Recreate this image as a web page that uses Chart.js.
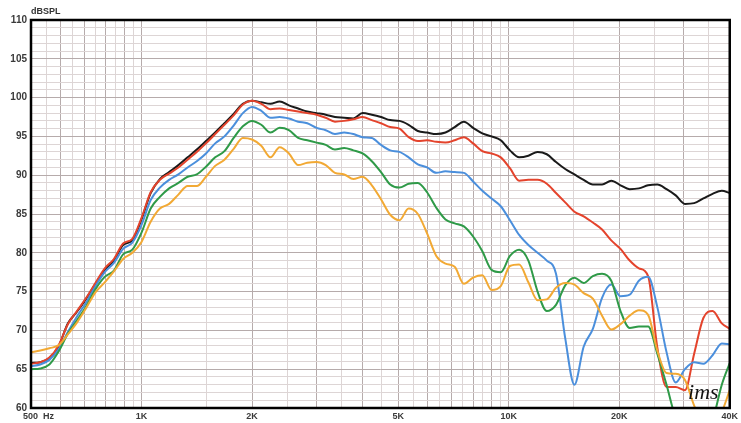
<!DOCTYPE html>
<html>
<head>
<meta charset="utf-8">
<script src="https://cdn.jsdelivr.net/npm/chart.js@4/dist/chart.umd.min.js"></script>
<style>
html,body{margin:0;padding:0;background:#fff}
canvas{display:block}
</style>
</head>
<body>
<canvas id="fr" width="741" height="423"></canvas>
<script>
// frequency points (Hz), roughly 1/12 octave
const freqs=[500,530,561,595,630,667,707,749,794,841,
  891,944,1000,1059,1122,1189,1260,1335,1414,1498,
  1587,1682,1782,1888,2000,2119,2245,2378,2520,2670,
  2828,2997,3175,3364,3564,3775,4000,4238,4490,4757,
  5040,5339,5657,5993,6350,6727,7127,7551,8000,8476,
  8980,9514,10079,10679,11314,11986,12699,13454,14254,15102,
  16000,16951,17959,19027,20159,21357,22627,23973,25398,26909,
  28509,30204,32000,33903,35919,38055,40000];

// dBSPL per curve
const splBlack=[65.8,65.9,66.4,68.0,70.9,72.4,74.1,76.0,77.8,79.0,
  81.0,81.6,84.3,87.7,89.5,90.4,91.3,92.3,93.3,94.4,
  95.5,96.7,97.9,99.2,99.6,99.4,99.2,99.5,99.0,98.6,
  98.2,98.0,97.8,97.5,97.4,97.3,98.0,97.8,97.5,97.1,
  97.0,96.5,95.7,95.5,95.3,95.5,96.2,96.9,96.1,95.4,
  95.0,94.5,93.2,92.3,92.5,93.0,92.7,91.7,90.8,90.1,
  89.4,88.8,88.8,89.3,88.7,88.2,88.3,88.7,88.8,88.2,
  87.4,86.3,86.4,87.0,87.6,88.0,87.7];
const splRed=[65.7,65.9,66.5,68.1,70.8,72.5,74.2,76.1,78.0,79.2,
  81.2,81.8,84.5,87.8,89.4,90.2,91.0,92.0,93.0,94.1,
  95.3,96.5,97.7,99.1,99.6,99.2,98.5,98.6,98.4,98.2,
  98.0,97.8,97.4,96.9,97.0,97.2,97.5,97.1,96.7,96.2,
  96.0,94.9,94.4,94.5,94.3,94.2,94.5,94.9,94.1,93.1,
  92.8,92.3,90.9,89.3,89.4,89.4,88.9,87.7,86.5,85.3,
  84.7,83.9,83.0,81.6,80.5,79.0,78.0,77.0,67.8,62.7,
  62.7,62.3,67.0,71.6,72.5,70.9,70.2];
const splBlue=[65.4,65.6,66.2,67.6,69.8,71.8,73.6,75.7,77.5,78.7,
  80.5,81.3,83.6,86.8,88.4,89.4,90.1,91.0,91.8,92.8,
  94.1,95.0,96.4,98.0,98.8,98.3,97.4,97.5,97.3,96.9,
  96.7,96.1,95.8,95.3,95.5,95.3,94.9,94.8,93.9,93.2,
  93.0,92.3,91.4,91.0,90.3,90.5,90.4,90.3,89.2,88.0,
  87.0,86.0,84.2,82.3,81.0,80.0,79.0,77.3,69.0,63.0,
  67.9,70.2,74.2,75.9,74.4,74.6,76.4,76.9,73.0,67.2,
  63.3,65.0,65.9,65.7,66.8,68.3,68.2];
const splGreen=[65.0,65.1,65.6,67.3,69.6,71.3,73.1,75.3,76.9,77.7,
  79.8,80.4,82.6,85.7,87.2,88.3,89.0,89.8,90.1,91.1,
  92.3,93.1,94.8,96.3,97.0,96.5,95.5,96.1,95.8,94.8,
  94.5,94.2,93.9,93.3,93.5,93.2,92.8,91.8,90.4,88.8,
  88.4,88.9,89.0,87.8,85.8,84.3,83.8,83.4,82.1,80.2,
  77.8,77.5,79.6,80.4,79.0,75.0,72.5,73.3,75.8,76.8,
  76.1,77.0,77.3,76.4,72.5,70.3,70.5,70.5,67.0,63.0,
  58.7,57.0,56.8,57.2,58.5,63.0,65.8];
const splOrange=[67.2,67.4,67.7,68.1,69.5,71.0,72.9,74.9,76.2,77.6,
  79.2,80.0,81.4,84.0,85.7,86.3,87.5,88.6,88.6,89.8,
  91.2,92.0,93.4,94.8,94.6,93.8,92.3,93.6,92.8,91.3,
  91.6,91.7,91.3,90.3,90.1,89.5,89.8,88.7,86.9,84.9,
  84.2,85.7,85.0,82.5,79.6,78.6,78.2,76.0,76.8,77.1,
  75.2,75.7,78.3,78.5,76.2,73.9,74.0,75.5,76.1,75.9,
  74.8,74.1,71.9,70.1,70.8,71.9,72.6,72.0,67.4,64.5,
  64.4,63.6,60.3,57.8,57.8,59.5,62.3];

// grid / tick positions
const xMajor=[500,600,700,800,900,1000,2000,3000,4000,5000,6000,7000,8000,9000,10000,20000,30000,40000];
const xMinor=[550,650,750,850,950,1500,2500,3500,4500,5500,6500,7500,8500,9500,15000,25000,35000];
const xLabelVals=[500,1000,2000,5000,10000,20000,40000];
const xLabelText=['      500  Hz','1K','2K','5K','10K','20K','40K'];
const yMin=60,yMax=110;
const yUnit='dBSPL';
const signature='ims';

const series=[
  {data:splOrange,color:'#f2a934'},
  {data:splGreen,color:'#2f9a48'},
  {data:splBlue,color:'#4b8fdc'},
  {data:splRed,color:'#e4432c'},
  {data:splBlack,color:'#1a1a1a'}
];

const frame={id:'frame',afterDatasetsDraw(chart){
  const {ctx,chartArea:a,scales}=chart;
  ctx.save();
  ctx.strokeStyle='#000';ctx.lineWidth=2.5;
  ctx.strokeRect(a.left,a.top,a.right-a.left,a.bottom-a.top);
  ctx.fillStyle='#333';ctx.font='bold 9px "Liberation Sans", Arial';
  ctx.textAlign='left';ctx.textBaseline='middle';
  ctx.fillText(yUnit,a.left,a.top-8.5);
  ctx.fillStyle='#111';ctx.font='italic 22px "Liberation Serif", serif';
  ctx.textBaseline='alphabetic';
  ctx.fillText(signature,scales.x.getPixelForValue(30800),scales.y.getPixelForValue(61.2));
  ctx.restore();
}};

new Chart(document.getElementById('fr'),{
  type:'line',
  data:{datasets:series.map(s=>({
    data:freqs.map((f,i)=>({x:f,y:s.data[i]})),
    borderColor:s.color,borderWidth:2,pointRadius:0,fill:false,
    cubicInterpolationMode:'monotone'
  }))},
  options:{
    responsive:false,animation:false,devicePixelRatio:1,
    layout:{padding:{top:20,right:7,left:0,bottom:0}},
    plugins:{legend:{display:false},tooltip:{enabled:false}},
    scales:{
      x:{type:'logarithmic',min:500,max:40000,
        afterBuildTicks:s=>{s.ticks=xMajor.concat(xMinor).sort((a,b)=>a-b).map(v=>({value:v}));},
        afterFit:s=>{s.height=15;},
        grid:{drawTicks:false,lineWidth:1,color:c=>xMajor.includes(c.tick.value)?'#b6abab':'#ddd5d5'},
        border:{display:false},
        ticks:{autoSkip:false,maxRotation:0,padding:3,color:'#3a3a3a',
          font:{family:'"Liberation Sans", Arial',size:9,weight:'bold'},
          callback:v=>{const k=xLabelVals.indexOf(v);return k>=0?xLabelText[k]:'';}}
      },
      y:{min:yMin,max:yMax,
        afterFit:s=>{s.width=31;},
        grid:{drawTicks:false,lineWidth:1,color:c=>c.tick.value%5===0?'#b6abab':'#ddd5d5'},
        border:{display:false},
        ticks:{stepSize:1,autoSkip:false,padding:4,color:'#3a3a3a',
          font:{family:'"Liberation Sans", Arial',size:10,weight:'bold'},
          callback:v=>v%5===0?String(v):''}
      }
    }
  },
  plugins:[frame]
});
</script>
</body>
</html>
